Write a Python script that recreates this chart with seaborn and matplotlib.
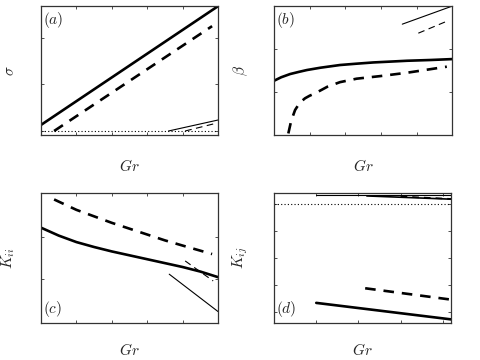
"""Four-panel sketch: sigma, beta, K_ii, K_ij versus Gr (no numeric ticks)."""

import matplotlib

matplotlib.use("Agg")
import matplotlib.pyplot as plt
import pandas as pd
import seaborn as sns

# --- panel (a): sigma ---
a_thick_x = [0.0, 5.0]
a_thick_y = [0.13, 2.68]
a_dash_x = [0.37, 4.83]
a_dash_y = [0.0, 2.25]
a_thin_x = [3.6, 5.0]
a_thin_y = [0.0, 0.236]
a_thindash_x = [4.07, 4.86]
a_thindash_y = [0.0, 0.15]
a_dotted_y = 0.0

# --- panel (b): beta ---
b_thick_x = [0.0, 0.2, 0.45, 0.7, 0.92, 1.3, 1.85, 2.3, 2.79, 3.3, 3.73, 4.4, 5.0]
b_thick_y = [0.421, 0.448, 0.473, 0.49, 0.504, 0.522, 0.543, 0.553, 0.563, 0.57, 0.576, 0.582, 0.589]
b_dash_x = [0.40, 0.48, 0.59, 0.72, 0.87, 1.0, 1.15, 1.5, 1.85, 2.32, 2.98, 3.73, 4.85]
b_dash_y = [0.012, 0.11, 0.194, 0.25, 0.285, 0.305, 0.323, 0.375, 0.41, 0.437, 0.457, 0.483, 0.53]
b_thin_x = [3.6, 5.0]
b_thin_y = [0.86, 1.0]
b_thindash_x = [4.05, 4.87]
b_thindash_y = [0.79, 0.885]

# --- panel (c): K_ii ---
c_thick_x = [0, 0.5, 1, 1.5, 2, 2.5, 3, 3.5, 4, 4.5, 5]
c_thick_y = [0.733, 0.672, 0.622, 0.584, 0.55, 0.52, 0.49, 0.46, 0.43, 0.395, 0.352]
c_dash_x = [0.37, 1, 1.5, 2, 2.5, 3, 3.5, 4, 4.83]
c_dash_y = [0.95, 0.87, 0.82, 0.77, 0.725, 0.68, 0.635, 0.595, 0.53]
c_thin_x = [3.62, 5.0]
c_thin_y = [0.375, 0.087]
c_thindash_x = [4.07, 4.86]
c_thindash_y = [0.477, 0.323]

# --- panel (d): K_ij ---
d_thick_x = [1.0, 4.2]
d_thick_y = [0.34, -0.27]
d_dash_x = [2.16, 4.15]
d_dash_y = [0.88, 0.47]
d_thin_top_x = [1.0, 4.2]
d_thin_top_y = [4.33, 4.33]
d_thick_top_x = [2.2, 4.2]
d_thick_top_y = [4.29, 4.17]
d_dash_top_x = [3.0, 4.2]
d_dash_top_y = [4.27, 4.18]
d_dotted_y = 4.0

sns.set_style("ticks")
plt.rcParams["mathtext.fontset"] = "cm"
plt.rcParams["font.family"] = ["DejaVu Sans"]

fig = plt.figure(figsize=(4.8, 3.6), dpi=100)
ax_a = fig.add_axes([0.0854, 0.625, 0.369, 0.358])
ax_b = fig.add_axes([0.571, 0.625, 0.371, 0.358])
ax_c = fig.add_axes([0.0854, 0.103, 0.369, 0.361])
ax_d = fig.add_axes([0.571, 0.103, 0.369, 0.361])

THICK, THIN = 1.9, 0.8


def line(ax, x, y, lw, ls="-"):
    df = pd.DataFrame({"x": x, "y": y})
    sns.lineplot(data=df, x="x", y="y", ax=ax, color="black", lw=lw,
                 linestyle=ls, sort=False, estimator=None)


dash = (0, (4, 3))
thin_dash = (0, (6, 4))

line(ax_a, a_thick_x, a_thick_y, THICK)
line(ax_a, a_dash_x, a_dash_y, THICK, dash)
line(ax_a, a_thin_x, a_thin_y, THIN)
line(ax_a, a_thindash_x, a_thindash_y, THIN, thin_dash)
ax_a.axhline(a_dotted_y, color="black", lw=0.8, ls=(0, (1, 2)))

line(ax_b, b_thick_x, b_thick_y, THICK)
line(ax_b, b_dash_x, b_dash_y, THICK, dash)
line(ax_b, b_thin_x, b_thin_y, THIN)
line(ax_b, b_thindash_x, b_thindash_y, THIN, thin_dash)

line(ax_c, c_thick_x, c_thick_y, THICK)
line(ax_c, c_dash_x, c_dash_y, THICK, dash)
line(ax_c, c_thin_x, c_thin_y, THIN)
line(ax_c, c_thindash_x, c_thindash_y, THIN, thin_dash)

line(ax_d, d_thick_x, d_thick_y, THICK)
line(ax_d, d_dash_x, d_dash_y, THICK, dash)
line(ax_d, d_thin_top_x, d_thin_top_y, THIN)
line(ax_d, d_thick_top_x, d_thick_top_y, 1.2)
line(ax_d, d_dash_top_x, d_dash_top_y, 1.2, dash)
ax_d.axhline(d_dotted_y, color="black", lw=0.8, ls=(0, (1, 2)))

ax_a.set(xlim=(0, 5), ylim=(-0.086, 2.68), xticks=[1, 2, 3, 4], yticks=[0, 1, 2])
ax_b.set(xlim=(0, 5), ylim=(0, 1), xticks=[1, 2, 3, 4], yticks=[1 / 3, 2 / 3])
ax_c.set(xlim=(0, 5), ylim=(0, 1), xticks=[1, 2, 3, 4], yticks=[0.34, 0.66])
ax_d.set(xlim=(0, 4.2), ylim=(-0.4, 4.4), xticks=[1, 2, 3, 4], yticks=[0, 1, 2, 3, 4])

ylabels = [r"$\sigma$", r"$\beta$", r"$K_{ii}$", r"$K_{ij}$"]
tags = [r"$(a)$", r"$(b)$", r"$(c)$", r"$(d)$"]
for i, ax in enumerate([ax_a, ax_b, ax_c, ax_d]):
    ax.tick_params(direction="in", length=2, width=0.6, top=True, right=True,
                   labelbottom=False, labelleft=False, color="#333333")
    for s in ax.spines.values():
        s.set_linewidth(0.9)
        s.set_color("#333333")
    ax.set_xlabel(r"$Gr$", fontsize=11)
    ax.xaxis.set_label_coords(0.5, -0.18 if i < 2 else -0.15)
    ax.set_ylabel(ylabels[i], fontsize=11)
    ax.yaxis.set_label_coords(-0.135, 0.5)
    ty = 0.97 if i < 2 else 0.03
    ax.text(0.01, ty, tags[i], transform=ax.transAxes, fontsize=11,
            ha="left", va="top" if i < 2 else "bottom")

fig.savefig("out.png", dpi=100)
